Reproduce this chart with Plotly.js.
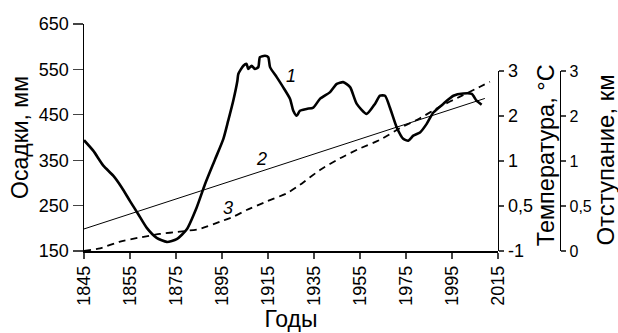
<!DOCTYPE html>
<html>
<head>
<meta charset="utf-8">
<script src="https://cdn.plot.ly/plotly-3.0.1.min.js"></script>
<style>html,body{margin:0;padding:0;background:#fff}#chart{width:618px;height:333px}</style>
</head>
<body>
<div id="chart"></div>
<script>
// Axis tick labels
const xTickVals = [1835, 1855, 1875, 1895, 1915, 1935, 1955, 1975, 1995, 2015];
const xTickLabels = ["1845", "1855", "1875", "1895", "1915", "1935", "1955", "1975", "1995", "2015"];
const precipTicks = [150, 250, 350, 450, 550, 650];
const tempTickVals = [-1, 0, 1, 2, 3];
const tempTickLabels = ["-1", "0,5", "1", "2", "3"];
const retreatTickVals = [0, 1, 2, 3, 4];
const retreatTickLabels = ["0", "0,5", "1", "2", "3"];

// Series 1: precipitation, mm
const precipYears = [1835, 1839, 1843.4, 1847.7, 1851.4, 1855, 1858.6, 1862.3, 1866.6, 1871, 1875.3, 1879.7, 1884, 1887.6, 1892, 1895.6, 1897.7, 1899.9, 1901.7, 1902.1, 1904.3, 1905.7, 1906.4, 1907.9, 1909.3, 1910.8, 1911.5, 1913.7, 1915.1, 1915.9, 1918.8, 1921.7, 1924.6, 1926, 1927.5, 1928.9, 1931.8, 1934.7, 1937.6, 1942, 1944.9, 1947.7, 1950.7, 1953.6, 1957.9, 1961.5, 1963.7, 1965.9, 1968, 1971, 1973.8, 1976, 1978.2, 1981.1, 1984, 1986.9, 1991.2, 1995.6, 1999.9, 2003.6, 2005.7, 2007.9];
const precipValues = [394, 371, 338, 316, 290, 260, 231, 201, 179, 170, 176, 198, 246, 297, 352, 397, 437, 481, 525, 540, 558, 562, 551, 558, 551, 555, 577, 580, 577, 555, 533, 510, 485, 459, 448, 459, 463, 466, 485, 500, 518, 522, 511, 474, 452, 474, 492, 492, 466, 422, 397, 393, 404, 411, 430, 455, 474, 492, 497, 496, 481, 472];

// Series 2: temperature trend, °C (axis units)
const tempYears = [1835, 2009.3];
const tempValues = [-0.51, 2.39];

// Series 3: retreat, km (axis units)
const retreatYears = [1835, 1842, 1850.7, 1859.3, 1868, 1876.7, 1885.4, 1894.1, 1899.9, 1905.7, 1914.4, 1923.1, 1928.9, 1937.6, 1946.3, 1955, 1963.7, 1972.4, 1981.1, 1989.8, 1998.5, 2007.2, 2011.5];
const retreatValues = [0, 0.06, 0.21, 0.30, 0.38, 0.43, 0.49, 0.65, 0.76, 0.91, 1.10, 1.28, 1.47, 1.80, 2.06, 2.28, 2.47, 2.73, 2.95, 3.21, 3.43, 3.65, 3.76];

const FONT = "Liberation Sans, Arial, sans-serif";

const traces = [
  {x: precipYears, y: precipValues, type: "scatter", mode: "lines", line: {color: "#000", width: 2.6, shape: "spline", smoothing: 0.6}, xaxis: "x", yaxis: "y", hoverinfo: "skip"},
  {x: tempYears, y: tempValues, type: "scatter", mode: "lines", line: {color: "#000", width: 1}, xaxis: "x", yaxis: "y2", hoverinfo: "skip"},
  {x: retreatYears, y: retreatValues, type: "scatter", mode: "lines", line: {color: "#000", width: 1.8, dash: "7px,5px", shape: "spline", smoothing: 0.5}, xaxis: "x", yaxis: "y3", hoverinfo: "skip"}
];

const domTop = 0.793;
const layout = {
  width: 618, height: 333,
  margin: {l: 84, r: 10, t: 24, b: 82, pad: 0},
  paper_bgcolor: "#fff", plot_bgcolor: "rgba(0,0,0,0)",
  showlegend: false,
  font: {family: FONT, size: 18, color: "#000"},
  xaxis: {
    domain: [0, 0.790], range: [1835, 2015], tickmode: "array", tickvals: xTickVals, ticktext: xTickLabels,
    tickangle: -90, ticks: "outside", ticklen: 6, tickwidth: 1.2, showline: true, linewidth: 1.5, linecolor: "#000",
    showgrid: false, zeroline: false, tickfont: {size: 18},
    title: {text: "Годы", font: {size: 23}, standoff: 4}
  },
  yaxis: {
    range: [150, 650], tickmode: "array", tickvals: precipTicks, ticks: "outside", ticklen: 10, tickwidth: 1.2,
    showline: true, linewidth: 1.5, linecolor: "#000", showgrid: false, zeroline: false, tickfont: {size: 18},
    title: {text: "Осадки, мм", font: {size: 23}, standoff: 4}
  },
  yaxis2: {
    domain: [0, domTop], anchor: "x", side: "right", range: [-1, 3], tickmode: "array", tickvals: tempTickVals, ticktext: tempTickLabels,
    ticks: "outside", ticklen: 5, tickwidth: 1.2, showline: true, linewidth: 1.5, linecolor: "#000",
    showgrid: false, zeroline: false, tickfont: {size: 18}
  },
  yaxis3: {
    domain: [0, domTop], anchor: "free", position: 0.908, side: "right", range: [0, 4], tickmode: "array", tickvals: retreatTickVals, ticktext: retreatTickLabels,
    ticks: "outside", ticklen: 5, tickwidth: 1.2, showline: true, linewidth: 1.5, linecolor: "#000",
    showgrid: false, zeroline: false, tickfont: {size: 16}
  },
  annotations: [
    {xref: "paper", yref: "paper", x: 0.882, y: 0.423, xanchor: "center", yanchor: "middle", text: "Температура, °С", textangle: -90, showarrow: false, font: {size: 23.5}},
    {xref: "paper", yref: "paper", x: 0.995, y: 0.40, xanchor: "center", yanchor: "middle", text: "Отступание, км", textangle: -90, showarrow: false, font: {size: 24}},
    {xref: "x", yref: "y", x: 1925, y: 536, text: "<i>1</i>", showarrow: false, font: {size: 18}},
    {xref: "x", yref: "y", x: 1912, y: 353, text: "<i>2</i>", showarrow: false, font: {size: 18}},
    {xref: "x", yref: "y", x: 1897.6, y: 245, text: "<i>3</i>", showarrow: false, font: {size: 18}}
  ]
};

Plotly.newPlot("chart", traces, layout, {staticPlot: true, displayModeBar: false});
</script>
</body>
</html>
